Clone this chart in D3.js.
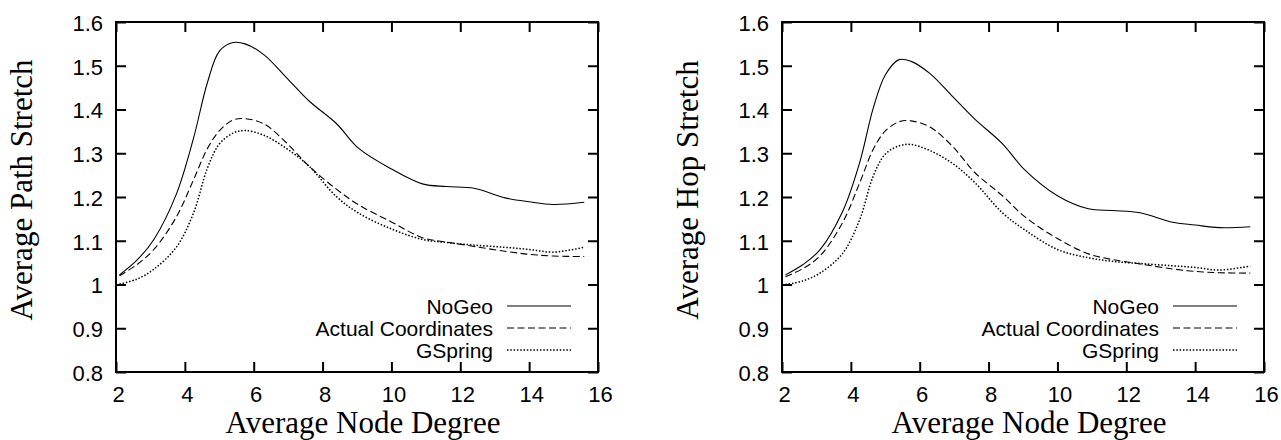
<!DOCTYPE html>
<html>
<head>
<meta charset="utf-8">
<script src="https://cdn.jsdelivr.net/npm/d3@7/dist/d3.min.js"></script>
<style>
  html, body { margin: 0; padding: 0; background: #fff; }
  svg { display: block; }
</style>
</head>
<body>
<svg id="chart" width="1281" height="440"></svg>
<script>
// ---- data ----
const degree = [2.1, 2.6, 3.1, 3.75, 4.25, 4.65, 5.0, 5.4, 5.75, 6.3, 6.95, 7.6, 8.4, 9.05, 10.0, 10.9, 11.6, 12.4, 13.3, 14.0, 14.7, 15.6];

const pathNoGeo  = [1.022, 1.055, 1.103, 1.206, 1.334, 1.460, 1.533, 1.553, 1.550, 1.525, 1.473, 1.420, 1.368, 1.311, 1.264, 1.230, 1.224, 1.220, 1.198, 1.189, 1.183, 1.188];
const pathActual = [1.020, 1.045, 1.080, 1.154, 1.239, 1.310, 1.351, 1.376, 1.379, 1.367, 1.324, 1.271, 1.218, 1.182, 1.143, 1.107, 1.097, 1.087, 1.076, 1.069, 1.065, 1.064];
const pathGSpring= [1.001, 1.012, 1.035, 1.085, 1.163, 1.265, 1.321, 1.346, 1.352, 1.341, 1.311, 1.271, 1.201, 1.163, 1.127, 1.103, 1.096, 1.090, 1.085, 1.080, 1.074, 1.085];

const hopNoGeo   = [1.022, 1.045, 1.079, 1.165, 1.277, 1.403, 1.479, 1.514, 1.510, 1.482, 1.430, 1.378, 1.322, 1.262, 1.203, 1.173, 1.169, 1.164, 1.143, 1.136, 1.130, 1.132];
const hopActual  = [1.018, 1.036, 1.065, 1.140, 1.231, 1.309, 1.351, 1.372, 1.374, 1.360, 1.316, 1.256, 1.203, 1.155, 1.105, 1.070, 1.057, 1.047, 1.036, 1.030, 1.027, 1.026];
const hopGSpring = [1.000, 1.008, 1.026, 1.070, 1.147, 1.248, 1.298, 1.317, 1.320, 1.306, 1.277, 1.233, 1.164, 1.125, 1.080, 1.061, 1.053, 1.048, 1.043, 1.039, 1.033, 1.042];

const seriesNames = ["NoGeo", "Actual Coordinates", "GSpring"];
const xTicks = [2, 4, 6, 8, 10, 12, 14, 16];
const yTicks = [0.8, 0.9, 1.0, 1.1, 1.2, 1.3, 1.4, 1.5, 1.6];
const xTitle = "Average Node Degree";
const yTitles = ["Average Path Stretch", "Average Hop Stretch"];

// ---- drawing ----
const svg = d3.select("#chart");
const dashes = [null, "7,3.5", "1.5,1.8"];
const widths = [1.1, 1.1, 1.5];
const tickFont = "'Liberation Sans', Arial, Helvetica, sans-serif";
const titleFont = "'Liberation Serif', 'Times New Roman', serif";

function drawPanel(left, seriesVals, yTitle) {
  const W = 482, H = 350, top = 22;
  const g = svg.append("g").attr("transform", `translate(${left},${top})`);
  const x = d3.scaleLinear().domain([2, 16]).range([0, W]);
  const y = d3.scaleLinear().domain([0.8, 1.6]).range([H, 0]);

  // curves
  const line = d3.line()
    .x((d, i) => x(degree[i]))
    .y(d => y(d))
    .curve(d3.curveCatmullRom.alpha(0.5));
  seriesVals.forEach((vals, k) => {
    g.append("path")
      .attr("d", line(vals))
      .attr("fill", "none")
      .attr("stroke", "#000")
      .attr("stroke-width", widths[k])
      .attr("stroke-dasharray", dashes[k]);
  });

  // axes with inward ticks (mirrored)
  const tl = 10;
  const axB = d3.axisBottom(x).tickValues(xTicks).tickSize(-tl).tickFormat(d3.format("d"));
  const axT = d3.axisTop(x).tickValues(xTicks).tickSize(-tl).tickFormat("");
  const axL = d3.axisLeft(y).tickValues(yTicks).tickSize(-tl).tickFormat(d => d === 1 ? "1" : d3.format(".1f")(d));
  const axR = d3.axisRight(y).tickValues(yTicks).tickSize(-tl).tickFormat("");

  const gb = g.append("g").attr("transform", `translate(0,${H})`).call(axB);
  const gt = g.append("g").call(axT);
  const gl = g.append("g").call(axL);
  const gr = g.append("g").attr("transform", `translate(${W},0)`).call(axR);

  [gb, gt, gl, gr].forEach(a => {
    a.select(".domain").remove();
    a.selectAll(".tick line").attr("stroke", "#000").attr("stroke-width", 2);
  });
  gb.selectAll(".tick text")
    .attr("font-family", tickFont).attr("font-size", 22).attr("fill", "#000")
    .attr("y", 0).attr("dy", 0)
    .attr("transform", "translate(2,30)");
  gl.selectAll(".tick text")
    .attr("font-family", tickFont).attr("font-size", 22).attr("fill", "#000")
    .attr("x", -13).attr("dy", "0.38em");

  // frame
  g.append("rect").attr("x", 0).attr("y", 0).attr("width", W).attr("height", H)
    .attr("fill", "none").attr("stroke", "#000").attr("stroke-width", 2);

  // titles
  g.append("text")
    .attr("x", W / 2 + 6).attr("y", H + 61)
    .attr("text-anchor", "middle")
    .attr("font-family", titleFont).attr("font-size", 31).attr("fill", "#000")
    .text(xTitle);
  g.append("text")
    .attr("transform", `translate(-84,${H / 2 - 7}) rotate(-90)`)
    .attr("text-anchor", "middle")
    .attr("font-family", titleFont).attr("font-size", 31).attr("fill", "#000")
    .text(yTitle);

  // legend
  const lg = g.append("g");
  seriesNames.forEach((name, k) => {
    const cy = 284 + k * 22;
    lg.append("text")
      .attr("x", W - 105).attr("y", cy + 7.5)
      .attr("text-anchor", "end")
      .attr("font-family", tickFont).attr("font-size", 21).attr("fill", "#000")
      .text(name);
    lg.append("line")
      .attr("x1", W - 91).attr("x2", W - 27)
      .attr("y1", cy).attr("y2", cy)
      .attr("stroke", "#000").attr("stroke-width", widths[k])
      .attr("stroke-dasharray", dashes[k]);
  });
}

drawPanel(116, [pathNoGeo, pathActual, pathGSpring], yTitles[0]);
drawPanel(782, [hopNoGeo, hopActual, hopGSpring], yTitles[1]);
</script>
</body>
</html>
